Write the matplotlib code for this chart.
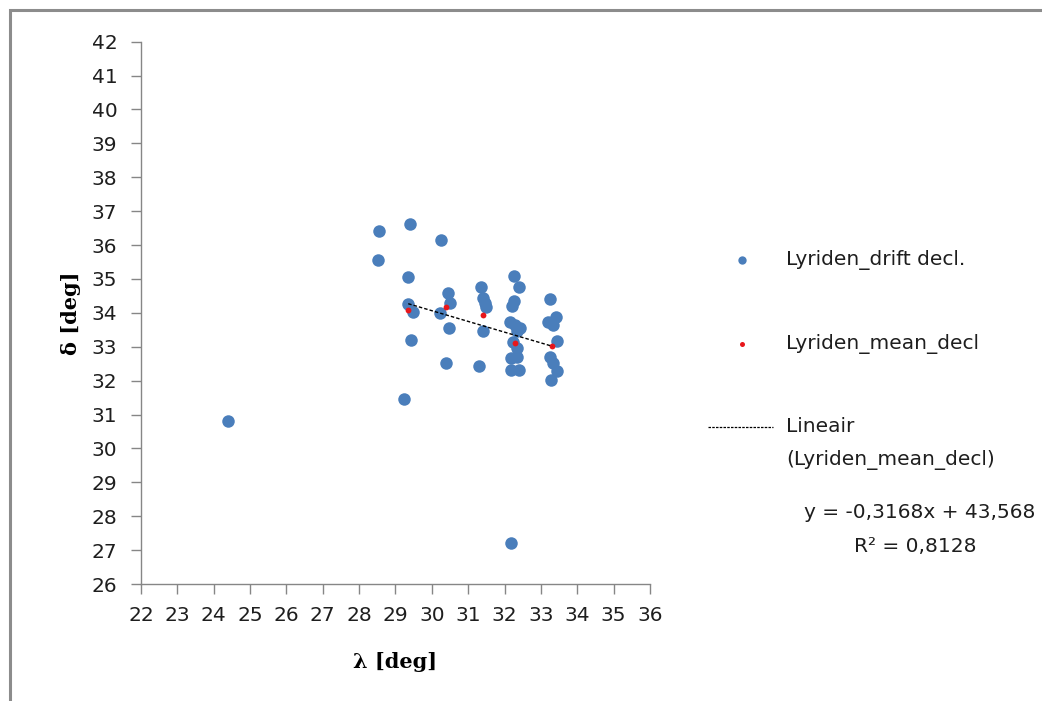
import numpy as np
import matplotlib
matplotlib.use("Agg")
import matplotlib.pyplot as plt
from matplotlib.lines import Line2D
from matplotlib.patches import Rectangle

# Lyriden: waargenomen drift (lambda, delta) en gemiddelde declinatie
drift_lambda = [28.56, 29.39, 30.25, 28.52, 29.35, 30.45, 30.49, 29.35, 29.49, 30.22,
                30.47, 29.42, 30.40, 31.30, 29.24, 31.34, 31.41, 31.46, 31.50, 31.41,
                32.26, 32.39, 32.26, 32.21, 32.14, 32.28, 32.42, 32.33, 32.22, 32.35,
                32.33, 32.19, 32.17, 32.41, 33.25, 33.41, 33.20, 33.34, 33.43, 33.25,
                33.34, 33.45, 33.27, 24.40, 32.19]
drift_delta = [36.42, 36.62, 36.15, 35.56, 35.07, 34.58, 34.28, 34.26, 34.04, 33.99,
               33.55, 33.20, 32.51, 32.44, 31.45, 34.75, 34.43, 34.28, 34.16, 33.47,
               35.10, 34.77, 34.35, 34.21, 33.74, 33.64, 33.54, 33.45, 33.15, 32.96,
               32.71, 32.66, 32.32, 32.32, 34.41, 33.87, 33.72, 33.64, 33.17, 32.71,
               32.51, 32.29, 32.02, 30.81, 27.21]

mean_lambda = [29.35, 30.38, 31.41, 32.30, 33.31]
mean_delta = [34.09, 34.18, 33.94, 33.10, 33.02]

# trendlijn zoals door Excel gegeven
slope = -0.3168
intercept = 43.568
r2 = 0.8128

blue = "#4a7ebb"
red = "#e8161b"
grey = "#868686"
txt = "#1e1e1e"
font = "DejaVu Sans"

fig = plt.figure(figsize=(10.42, 7.01), dpi=100)
ax = fig.add_axes([0.1353, 0.1669, 0.4885, 0.7736])

ax.plot(drift_lambda, drift_delta, "o", color=blue, markersize=9.0, markeredgewidth=0, zorder=2)
ax.plot(mean_lambda, mean_delta, "o", color=red, markersize=4.2, markeredgewidth=0, zorder=3)

xt = np.array([min(mean_lambda), max(mean_lambda)])
ax.plot(xt, slope * xt + intercept, color="black", linestyle=(0, (2.5, 1.5)), linewidth=1.0, zorder=4)

ax.set_xlim(22, 36)
ax.set_ylim(26, 42)
ax.set_xticks(range(22, 37))
ax.set_yticks(range(26, 43))
for side in ["top", "right"]:
    ax.spines[side].set_visible(False)
for side in ["left", "bottom"]:
    ax.spines[side].set_color(grey)
    ax.spines[side].set_linewidth(1.0)
ax.tick_params(axis="both", direction="out", length=7, width=1.0, color=grey,
               labelsize=14.5, labelcolor=txt)
ax.tick_params(axis="x", pad=9)
ax.tick_params(axis="y", pad=10)
for lab in ax.get_xticklabels() + ax.get_yticklabels():
    lab.set_fontfamily(font)

ax.set_xlabel("λ [deg]", fontsize=15, fontweight="bold", family="DejaVu Serif", labelpad=19)
ax.set_ylabel("δ [deg]", fontsize=15, fontweight="bold", family="DejaVu Serif", labelpad=8)

# legenda handmatig
W, H = 1042, 701
def fx(px):
    return px / W
def fy(py):
    return 1 - py / H

fs = 14.5
fig.add_artist(Line2D([fx(742)], [fy(260)], marker="o", color=blue, markersize=6, markeredgewidth=0))
fig.text(fx(786), fy(260), "Lyriden_drift decl.", fontsize=fs, family=font, va="center", color=txt)
fig.add_artist(Line2D([fx(742)], [fy(344)], marker="o", color=red, markersize=3.6, markeredgewidth=0))
fig.text(fx(786), fy(344), "Lyriden_mean_decl", fontsize=fs, family=font, va="center", color=txt)
fig.add_artist(Line2D([fx(708), fx(773)], [fy(427), fy(427)], color="black",
                      linestyle=(0, (2.0, 1.0)), linewidth=0.9))
fig.text(fx(786), fy(426), "Lineair", fontsize=fs, family=font, va="center", color=txt)
fig.text(fx(786), fy(460), "(Lyriden_mean_decl)", fontsize=fs, family=font, va="center", color=txt)

eq = f"y = {slope:.4f}x + {intercept:.3f}".replace(".", ",")
fig.text(fx(1035), fy(512), eq, fontsize=fs, family=font, ha="right", va="center", color=txt)
fig.text(fx(915), fy(546), f"R² = {r2:.4f}".replace(".", ","), fontsize=fs, family=font,
         ha="center", va="center", color=txt)

# grijze kader (alleen linker- en bovenrand zichtbaar)
fig.add_artist(Rectangle((fx(10), -0.1), 1.2, fy(10) + 0.1, fill=False, edgecolor="#8c8c8c", linewidth=2.2))

fig.savefig("out.png", dpi=100)
